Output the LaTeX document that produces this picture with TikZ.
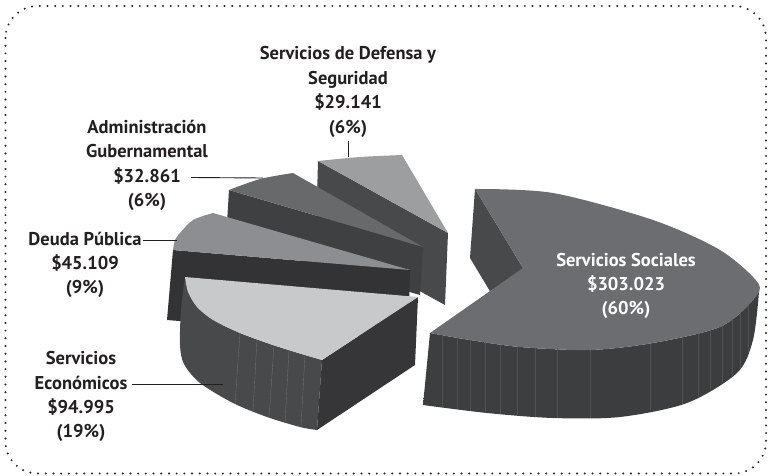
\documentclass[tikz,border=0pt]{standalone}
\usepackage{fontspec}
\setmainfont{PT Sans}
\usetikzlibrary{positioning}

\definecolor{ink}{HTML}{231F20}
\definecolor{deftop}{HTML}{9D9EA0}
\definecolor{defside}{HTML}{48494B}
\definecolor{admtop}{HTML}{68696B}
\definecolor{admside}{HTML}{3F4042}
\definecolor{deutop}{HTML}{8D8E91}
\definecolor{deuside}{HTML}{333335}
\definecolor{ecotop}{HTML}{C8C9CB}
\definecolor{ecoside}{HTML}{48494B}
\definecolor{ecoend}{HTML}{363638}
\definecolor{soctop}{HTML}{6C6D70}
\definecolor{socend}{HTML}{48494B}
\definecolor{socleft}{HTML}{3D3E40}
\definecolor{socmid}{HTML}{2F2F31}
\definecolor{socright}{HTML}{3C3D3F}
\definecolor{seamgray}{HTML}{6A6B6D}
\definecolor{socseam}{HTML}{505153}

\tikzset{
  lbl/.style={font=\bfseries\fontsize{18.5}{24}\selectfont, text=ink, inner sep=0pt},
  row/.style={lbl, text height=16.5pt, text depth=7.5pt},
  leader/.style={draw=ink, line width=0.9pt},
  seam/.style={draw=seamgray, line width=0.4pt},
}

\begin{document}
\begin{tikzpicture}[x=1pt,y=-1pt,node distance=0pt]
\useasboundingbox (0,0) rectangle (768,476);
\draw[ink, line width=2.2pt, line cap=round, dash pattern=on 0pt off 7.7pt,
  rounded corners=32pt] (5.5,6) rectangle (766,473.5);

% Servicios de Defensa y Seguridad
\fill[defside] (318,161) -- (448,233) -- (445,305) -- (316,234) -- cycle;
\fill[deftop] (448,233) -- plot[smooth] coordinates {(318,161) (360,157) (402,155)} -- cycle;

% Administracion Gubernamental
\fill[admside] (229,190) -- (423,247) -- (420,295) -- (226,239) -- cycle;
\fill[admtop] (423,247) -- plot[smooth] coordinates {(229,190) (260,179) (293,173)} -- cycle;

% Deuda Publica
\fill[deuside] (173,250) -- (410,270) -- (408,340) -- (167,320) -- cycle;
\fill[deutop] (410,270) -- plot[smooth] coordinates {(173,250) (175,240) (180,233) (193,220) (213,213)} -- cycle;

% Servicios Economicos
\fill[ecoside] plot[smooth] coordinates
  {(185,277) (188,292) (197,307) (213,320) (240,333) (270,344) (295,352) (322,360)}
  -- (317,430) -- plot[smooth] coordinates
  {(317,430) (300,427) (267,417) (233,403) (200,383) (184,364) (180,345) (181,310) (185,277)}
  -- cycle;
\foreach \xt/\yt/\xb/\yb in {240/333/235/404, 257/339/253/412, 274/345.5/269/418,
                             289/350/285/423, 305/355/301/427} {
  \draw[seam] (\xt,\yt) -- (\xb,\yb);
}
\fill[ecoend] (322,360) -- (418,297) -- (415,365) -- (317,430) -- cycle;
\fill[ecotop] (418,297) -- plot[smooth] coordinates
  {(185,277) (188,292) (197,307) (213,320) (240,333) (270,344) (295,352) (322,360)} -- cycle;

% Servicios Sociales
\shade[left color=socleft, middle color=socmid, right color=socright] plot[smooth] coordinates
  {(430,333) (470,340) (520,347) (590,350) (653,343) (720,327) (753,300) (758,283)}
  -- plot[smooth] coordinates
  {(759,292) (753,340) (737,373) (687,403) (620,417) (553,418) (487,413) (423,405)}
  -- cycle;
\foreach \x/\yt/\yb in {442/335/407, 457/337.5/409, 470/340/410.5, 485/342/413,
                        500/344.5/414, 517/347/415, 535/348/417, 557/349/418,
                        590/350/418, 650/343.5/410, 682/336/404, 698/332.5/397,
                        710/330/389, 722/325/382, 732/318.5/376, 740/312/369,
                        748/304/353} {
  \draw[seam, draw=socseam] (\x,\yt) -- (\x,\yb);
}
\fill[socend] (475,189) -- (523,268) -- (518,338) -- (470,258) -- cycle;
\fill[soctop] (523,268) -- plot[smooth] coordinates
  {(475,189) (553,193) (653,220) (720,250) (758,283) (753,300) (720,327)
   (653,343) (590,350) (520,347) (470,340) (430,333)} -- cycle;

% labels
\node[row, anchor=base] (defensa) at (348,133) {(6\%)};
\node[row, above=of defensa] (defensa-val) {\$29.141};
\node[row, above=of defensa-val] (defensa-name2) {Seguridad};
\node[row, above=of defensa-name2] (defensa-name) {Servicios de Defensa y};
\coordinate (defensa-tip) at (348,157);
\draw[leader] (defensa.south) -- (defensa-tip);

\node[row, anchor=base] (admin) at (147,182) {\$32.861};
\node[row, above=of admin] (admin-name2) {Gubernamental};
\node[row, above=of admin-name2] (admin-name) {Administración};
\node[row, below=of admin] (admin-pct) {(6\%)};
\coordinate (admin-tip) at (263,178);
\draw[leader] ([xshift=10pt]admin.east) -- (admin-tip);

\node[row, anchor=base] (deuda) at (85,245) {Deuda Pública};
\node[row, below=of deuda] (deuda-val) {\$45.109};
\node[row, below=of deuda-val] (deuda-pct) {(9\%)};
\coordinate (deuda-tip) at (177,240.5);
\draw[leader] ([xshift=1pt]deuda.east) -- (deuda-tip);

\node[row, anchor=base] (econ) at (81,389) {Económicos};
\node[row, above=of econ] (econ-name) {Servicios};
\node[row, below=of econ] (econ-val) {\$94.995};
\node[row, below=of econ-val] (econ-pct) {(19\%)};
\coordinate (econ-tip) at (223,384.5);
\draw[leader] ([xshift=4pt]econ.east) -- (econ-tip);

\node[lbl, text=white, align=center] (sociales) at (626,286)
  {Servicios Sociales\\\$303.023\\(60\%)};
\end{tikzpicture}
\end{document}
